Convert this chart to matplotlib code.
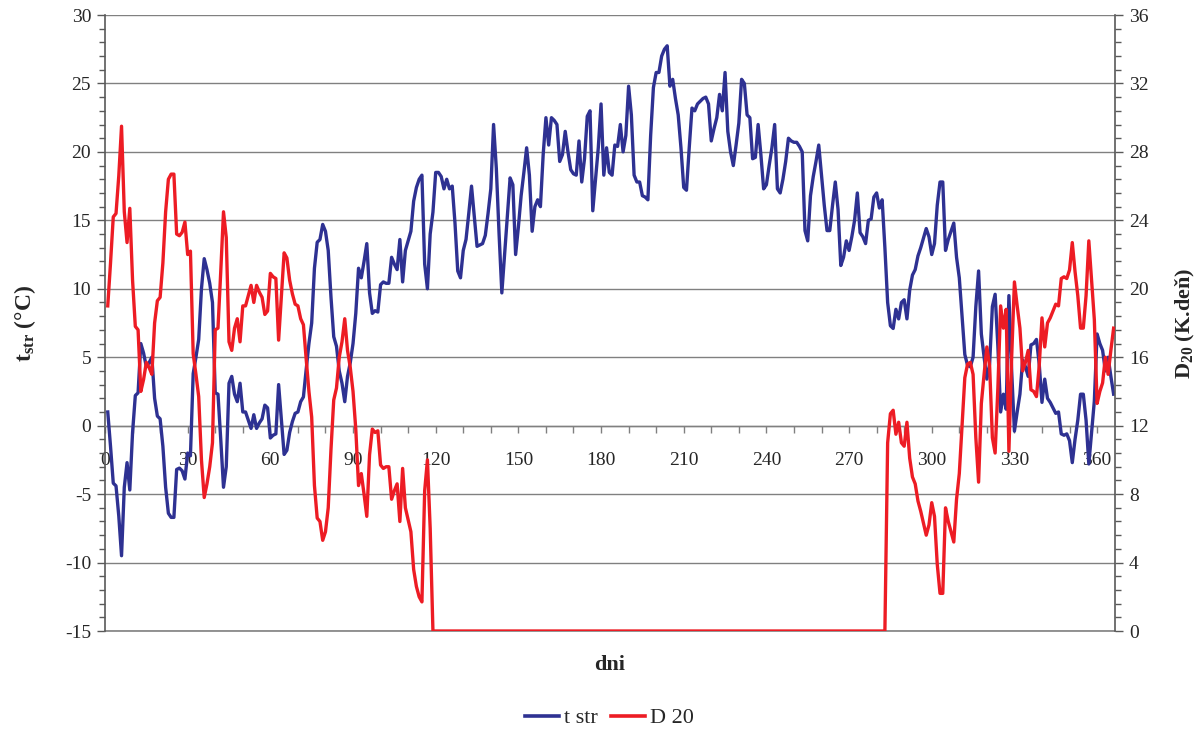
import matplotlib
matplotlib.use("Agg")
import matplotlib.pyplot as plt
from matplotlib.ticker import MultipleLocator
from matplotlib.lines import Line2D

# daily mean outdoor temperature t_str (deg C), day 1..366
t_str = [
    1.0, -1.5, -4.2, -4.4, -6.6, -9.5, -4.5, -2.7, -4.7, -0.5,
    2.2, 2.4, 6.0, 5.3, 4.3, 4.6, 5.0, 2.0, 0.7, 0.5,
    -1.5, -4.5, -6.4, -6.7, -6.7, -3.2, -3.1, -3.3, -3.9, -2.0,
    -2.2, 3.8, 5.0, 6.3, 10.0, 12.2, 11.4, 10.4, 9.0, 2.4,
    2.3, -1.0, -4.5, -3.0, 3.1, 3.6, 2.3, 1.75, 3.1, 1.0,
    1.0, 0.4, -0.2, 0.8, -0.2, 0.2, 0.5, 1.5, 1.3, -0.9,
    -0.7, -0.6, 3.0, 0.4, -2.1, -1.8, -0.5, 0.3, 0.9, 1.0,
    1.75, 2.1, 4.1, 6.0, 7.5, 11.5, 13.4, 13.6, 14.7, 14.2,
    12.8, 9.4, 6.5, 5.8, 4.0, 3.1, 1.75, 3.6, 4.6, 6.0,
    8.2, 11.5, 10.8, 12.0, 13.3, 9.7, 8.2, 8.4, 8.3, 10.3,
    10.5, 10.4, 10.4, 12.3, 11.8, 11.4, 13.6, 10.5, 12.8, 13.5,
    14.2, 16.4, 17.4, 18.0, 18.3, 11.8, 10.0, 14.0, 15.6, 18.5,
    18.5, 18.2, 17.3, 18.0, 17.3, 17.5, 14.8, 11.3, 10.8, 12.8,
    13.6, 15.5, 17.5, 15.3, 13.1, 13.2, 13.3, 13.9, 15.5, 17.3,
    22.0, 18.8, 14.0, 9.7, 12.5, 15.3, 18.1, 17.6, 12.5, 14.5,
    16.8, 18.5, 20.3, 18.3, 14.2, 16.0, 16.5, 16.0, 19.8, 22.5,
    20.5, 22.5, 22.3, 22.0, 19.3, 19.8, 21.5, 20.0, 18.7, 18.4,
    18.3, 20.8, 17.8, 19.5, 22.6, 23.0, 15.7, 18.0, 20.3, 23.5,
    18.3, 20.3, 18.5, 18.3, 20.5, 20.4, 22.0, 20.0, 21.2, 24.8,
    22.7, 18.3, 17.8, 17.8, 16.8, 16.7, 16.5, 21.2, 24.7, 25.8,
    25.8, 27.0, 27.5, 27.75, 24.8, 25.3, 23.9, 22.7, 20.3, 17.4,
    17.2, 20.3, 23.2, 23.0, 23.5, 23.7, 23.9, 24.0, 23.5, 20.8,
    21.7, 22.5, 24.2, 23.0, 25.8, 21.5, 20.0, 19.0, 20.5, 22.1,
    25.3, 25.0, 22.7, 22.5, 19.5, 19.6, 22.0, 19.8, 17.3, 17.6,
    19.0, 20.3, 22.0, 17.3, 17.0, 18.0, 19.3, 21.0, 20.8, 20.7,
    20.7, 20.4, 20.0, 14.25, 13.5, 16.8, 18.2, 19.3, 20.5, 18.3,
    16.1, 14.25, 14.25, 16.1, 17.8, 15.8, 11.7, 12.3, 13.5, 12.8,
    13.8, 15.0, 17.0, 14.1, 13.8, 13.3, 15.0, 15.1, 16.7, 17.0,
    15.9, 16.5, 13.0, 9.0, 7.3, 7.1, 8.5, 7.8, 9.0, 9.2,
    7.8, 9.9, 11.0, 11.4, 12.4, 13.0, 13.7, 14.4, 13.8, 12.5,
    13.3, 16.1, 17.8, 17.8, 12.8, 13.6, 14.2, 14.8, 12.3, 10.8,
    8.0, 5.2, 4.4, 4.3, 5.0, 8.7, 11.3, 6.7, 5.0, 3.4,
    4.5, 8.7, 9.6, 5.8, 1.0, 2.3, 1.2, 9.5, 4.0, -0.4,
    1.0, 2.3, 4.8, 4.3, 3.6, 5.9, 6.0, 6.3, 4.5, 1.7,
    3.4, 2.0, 1.7, 1.3, 0.9, 1.0, -0.6, -0.7, -0.6, -1.1,
    -2.7, -1.0, 0.4, 2.3, 2.3, 0.4, -2.8, -0.5, 1.8, 6.7,
    6.0, 5.5, 4.0, 5.0, 3.6, 2.3,
]
days = list(range(1, len(t_str) + 1))

# heating season limits (degree-days D20 counted only in heating season)
HEAT_END_DAY = 118
HEAT_START_DAY = 284
d20 = [20.0 - t if (d <= HEAT_END_DAY or d >= HEAT_START_DAY) else 0.0
       for d, t in zip(days, t_str)]

x_ticks = list(range(0, 361, 30))

BLUE = "#2E3192"
RED = "#ED1C24"
GRID = "#808080"
AXC = "#595959"
TXT = "#262626"

plt.rcParams["font.family"] = ["Liberation Serif", "DejaVu Serif"]
plt.rcParams["mathtext.fontset"] = "custom"
plt.rcParams["mathtext.rm"] = "Liberation Serif"
plt.rcParams["mathtext.bf"] = "Liberation Serif:bold"
plt.rcParams["mathtext.it"] = "Liberation Serif:italic"
plt.rcParams["axes.unicode_minus"] = False

fig = plt.figure(figsize=(12, 7.34), dpi=100)
ax = fig.add_axes([105 / 1200, 1 - 631 / 734, 1010 / 1200, 616 / 734])

ax.set_xlim(0, 366.5)
ax.set_ylim(-15, 30)
ax.plot(days, t_str, color=BLUE, lw=2.4, solid_joinstyle="round", zorder=3)

ax.yaxis.set_major_locator(MultipleLocator(5))
ax.yaxis.set_minor_locator(MultipleLocator(1))
ax.xaxis.set_major_locator(MultipleLocator(30))
ax.xaxis.set_minor_locator(MultipleLocator(10))
ax.grid(axis="y", which="major", color=GRID, lw=1.0, zorder=0)
ax.axhline(-15, color=GRID, lw=1.2, clip_on=False, zorder=1)
ax.set_axisbelow(True)

for s in ["top", "right"]:
    ax.spines[s].set_visible(False)
ax.spines["left"].set_color(AXC)
ax.spines["left"].set_linewidth(1.2)
ax.spines["bottom"].set_position(("data", 0))
ax.spines["bottom"].set_color(GRID)
ax.spines["bottom"].set_linewidth(1.0)

ax.tick_params(axis="y", which="major", direction="out", length=6, width=1,
               color=AXC, labelsize=14, labelcolor=TXT, pad=4)
ax.tick_params(axis="y", which="minor", direction="out", length=4, width=1,
               color=AXC)
ax.tick_params(axis="x", which="both", direction="out", length=5, width=1,
               color=GRID, labelsize=14, labelcolor=TXT, pad=14)
ax.set_xticks(x_ticks)
ax.set_xticklabels([str(v) for v in x_ticks])

ax.set_ylabel(r"$\mathbf{t_{str}}$ (°C)", fontsize=17, fontweight="bold",
              color=TXT)
ax.yaxis.set_label_coords(-0.066, 0.5)

ax2 = ax.twinx()
ax2.set_ylim(0, 36)
ax2.plot(days, d20, color=RED, lw=2.4, solid_joinstyle="round", zorder=3)
ax2.yaxis.set_major_locator(MultipleLocator(4))
ax2.yaxis.set_minor_locator(MultipleLocator(0.8))
for s in ["top", "left", "bottom"]:
    ax2.spines[s].set_visible(False)
ax2.spines["right"].set_color(AXC)
ax2.spines["right"].set_linewidth(1.2)
ax2.tick_params(axis="y", which="major", direction="out", length=6, width=1,
                color=AXC, labelsize=14, labelcolor=TXT, pad=4)
ax2.tick_params(axis="y", which="minor", direction="out", length=4, width=1,
                color=AXC)
ax2.set_ylabel(r"$\mathbf{D_{20}}$ (K.deň)", fontsize=16, fontweight="bold",
               color=TXT)
ax2.yaxis.set_label_coords(1.058, 0.5)

fig.text(610 / 1200, 1 - 665 / 734, "dni", ha="center", va="center",
         fontsize=16, fontweight="bold", color=TXT)

handles = [Line2D([0], [0], color=BLUE, lw=2.6),
           Line2D([0], [0], color=RED, lw=2.6)]
fig.legend(handles, ["t str", "D 20"], loc="center",
           bbox_to_anchor=(0.508, 1 - 718 / 734), ncol=2, frameon=False,
           fontsize=16, handlelength=1.5, handletextpad=0.25,
           columnspacing=0.6, labelcolor=TXT)

fig.savefig("out.png", dpi=100)
